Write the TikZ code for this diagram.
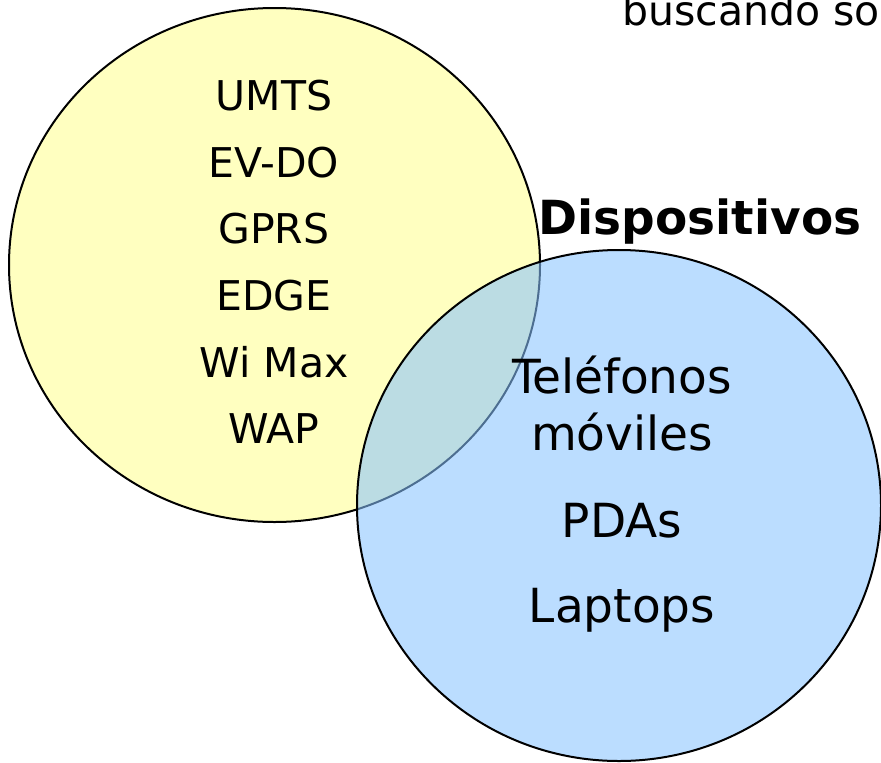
\documentclass[tikz,border=0pt]{standalone}
\usepackage{fontspec}
\setmainfont{DejaVu Sans}
\usetikzlibrary{positioning}

\definecolor{redyellow}{RGB}{255,255,192}
\definecolor{devblue}{RGB}{136,195,255}

\begin{document}
\begin{tikzpicture}[x=1pt,y=-1pt,
  every node/.style={inner sep=0pt,anchor=base,font=\fontsize{41}{49}\selectfont},
  big/.style={font=\fontsize{47}{56}\selectfont},
  title/.style={font=\fontsize{47}{56}\selectfont\bfseries},
  ring/.style={draw=black,line width=2pt}]
  \useasboundingbox (0,0) rectangle (881,763);
  \clip (0,0) rectangle (881,763);

  % circles
  \path[ring,fill=redyellow] (274.5,265) ellipse [x radius=265.5,y radius=257];
  \path[ring,fill=devblue,fill opacity=0.57] (619,505.5) ellipse [x radius=262,y radius=255.5];

  % text cut off at the top
  \node[anchor=base west] (top) at (622,25) {buscando sobre};

  \node (umts) at (274,110) {UMTS};
  \node (evdo) at (274,177) {EV-DO};
  \node (gprs) at (274,243) {GPRS};
  \node (edge) at (274,310) {EDGE};
  \node (wimax) at (274,377) {Wi Max};
  \node (wap) at (274,443) {WAP};

  \node[title] (disp) at (700,234) {Dispositivos};

  \node[big] (tel) at (622,393) {Teléfonos};
  \node[big] (mov) at (622,450) {móviles};
  \node[big] (pda) at (622,537) {PDAs};
  \node[big] (lap) at (622,622) {Laptops};
\end{tikzpicture}
\end{document}
